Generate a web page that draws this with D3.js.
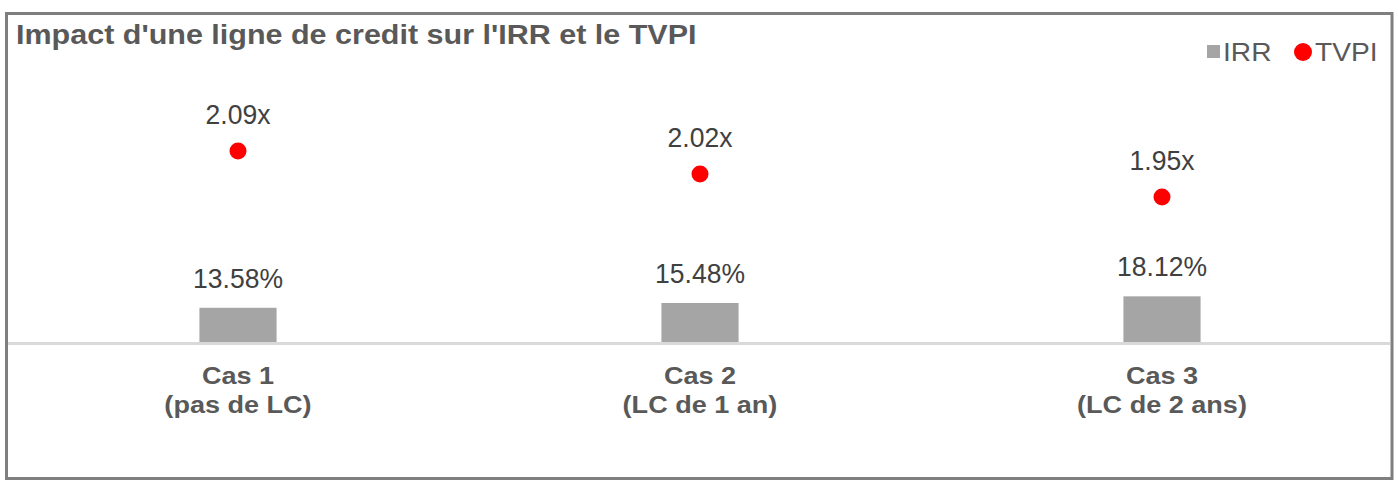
<!DOCTYPE html>
<html>
<head>
<meta charset="utf-8">
<script src="https://cdn.jsdelivr.net/npm/d3@7"></script>
<style>
  html, body { margin: 0; padding: 0; background: #ffffff; }
  svg { display: block; }
  text { font-family: "Liberation Sans", Arial, sans-serif; }
</style>
</head>
<body>
<svg id="chart" width="1398" height="487"></svg>
<script>
// ---- data ----
const categories = ["Cas 1", "Cas 2", "Cas 3"];
const subLabels = ["(pas de LC)", "(LC de 1 an)", "(LC de 2 ans)"];
const irrValues = [13.58, 15.48, 18.12];
const tvpiValues = [2.09, 2.02, 1.95];
const irrLabels = ["13.58%", "15.48%", "18.12%"];
const tvpiLabels = ["2.09x", "2.02x", "1.95x"];
const seriesNames = ["IRR", "TVPI"];
const titleText = "Impact d'une ligne de credit sur l'IRR et le TVPI";

// ---- layout ----
const W = 1398, H = 487;
const svg = d3.select("#chart");
const gray = "#a5a5a5", red = "#ff0000", textCol = "#595959", valCol = "#404040";
const baseY = 342;

const x = d3.scaleBand().domain(categories).range([7, 1393]).paddingInner(0.833).paddingOuter(0.4165);
const yIRR = d3.scaleLinear().domain([0, 20]).range([baseY, baseY - 50.4]);
const yTVPI = d3.scaleLinear().domain([1.9, 2.1]).range([213.4, 147.7]);

// outer border
svg.append("rect").attr("x", 6.5).attr("y", 13.5).attr("width", 1385.5).attr("height", 465)
  .attr("fill", "#fff").attr("stroke", "#7f7f7f").attr("stroke-width", 3);

// title
svg.append("text").attr("transform", "translate(16,44) scale(1.09,1)")
  .attr("font-size", 28).attr("font-weight", "bold").attr("fill", textCol).text(titleText);

// baseline
svg.append("line").attr("x1", 8).attr("x2", 1390).attr("y1", baseY + 1.5).attr("y2", baseY + 1.5)
  .attr("stroke", "#d9d9d9").attr("stroke-width", 3);

// bars
svg.selectAll("rect.bar").data(irrValues).join("rect").attr("class", "bar")
  .attr("x", (d, i) => x(categories[i]))
  .attr("width", x.bandwidth())
  .attr("y", d => yIRR(d))
  .attr("height", d => yIRR(0) - yIRR(d))
  .attr("fill", gray);

// bar labels
svg.selectAll("text.irr").data(irrValues).join("text").attr("class", "irr")
  .attr("transform", (d, i) => `translate(${x(categories[i]) + x.bandwidth() / 2},${yIRR(d) - 20}) scale(0.93,1)`)
  .attr("text-anchor", "middle").attr("font-size", 28.5).attr("fill", valCol)
  .text((d, i) => irrLabels[i]);

// dots
svg.selectAll("circle.tvpi").data(tvpiValues).join("circle").attr("class", "tvpi")
  .attr("cx", (d, i) => x(categories[i]) + x.bandwidth() / 2)
  .attr("cy", d => yTVPI(d))
  .attr("r", 8.5).attr("fill", red);

svg.selectAll("text.tvpi").data(tvpiValues).join("text").attr("class", "tvpi")
  .attr("transform", (d, i) => `translate(${x(categories[i]) + x.bandwidth() / 2},${yTVPI(d) - 27}) scale(0.93,1)`)
  .attr("text-anchor", "middle").attr("font-size", 28.5).attr("fill", valCol)
  .text((d, i) => tvpiLabels[i]);

// category labels
categories.forEach((c, i) => {
  const cx = x(c) + x.bandwidth() / 2;
  svg.append("text").attr("transform", `translate(${cx},384) scale(1.1,1)`)
    .attr("text-anchor", "middle").attr("font-size", 24.6).attr("font-weight", "bold")
    .attr("fill", textCol).text(c);
  svg.append("text").attr("transform", `translate(${cx},413) scale(1.1,1)`)
    .attr("text-anchor", "middle").attr("font-size", 24.6).attr("font-weight", "bold")
    .attr("fill", textCol).text(subLabels[i]);
});

// legend
const lg = svg.append("g");
lg.append("rect").attr("x", 1207).attr("y", 45).attr("width", 13).attr("height", 13).attr("fill", gray);
lg.append("text").attr("transform", "translate(1223,61) scale(1.1,1)")
  .attr("font-size", 25.6).attr("fill", textCol).text(seriesNames[0]);
lg.append("circle").attr("cx", 1303).attr("cy", 52).attr("r", 9).attr("fill", red);
lg.append("text").attr("transform", "translate(1315,61) scale(1.1,1)")
  .attr("font-size", 25.6).attr("fill", textCol).text(seriesNames[1]);
</script>
</body>
</html>
